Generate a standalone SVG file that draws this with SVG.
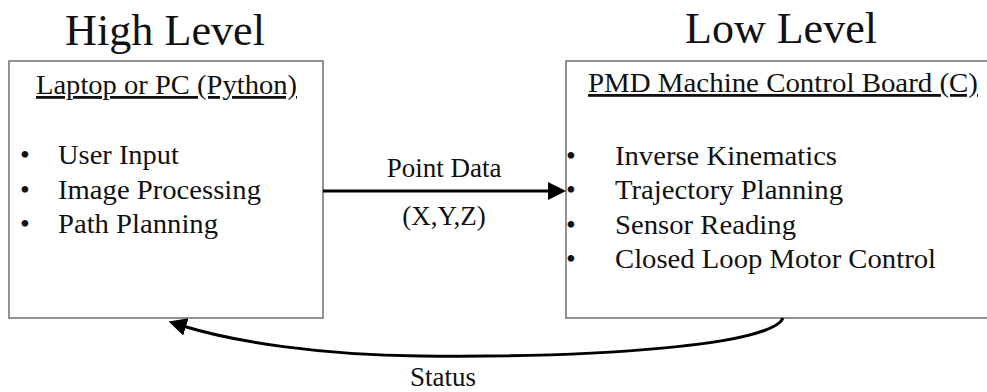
<svg xmlns="http://www.w3.org/2000/svg" width="987" height="392" viewBox="0 0 987 392">
<style>
text{font-family:"Liberation Serif","Times New Roman",serif;fill:#111}
.h{font-size:44px;text-anchor:middle}
.t{font-size:28px}
.u{text-decoration:underline}
.b{text-anchor:middle}
.box{fill:#fff;stroke:#777;stroke-width:1.6}
.c{fill:none;stroke:#000;stroke-width:3}
.l{font-size:27px;text-anchor:middle}
</style>
<defs>
<marker id="ah" markerUnits="userSpaceOnUse" markerWidth="20" markerHeight="20" refX="3" refY="9" orient="auto">
<path d="M0,0 L18,9 L0,18 z" fill="#000"/>
</marker>
</defs>
<rect width="987" height="392" fill="#fff"/>
<text class="h" x="165" y="45" textLength="200" lengthAdjust="spacingAndGlyphs">High Level</text>
<text class="h" x="781" y="43">Low Level</text>
<g id="pc">
<rect class="box" x="9" y="61" width="314" height="257"/>
<text class="t u" x="36" y="94" textLength="261" lengthAdjust="spacingAndGlyphs">Laptop or PC (Python)</text>
<text class="t b" x="25" y="164">•</text>
<text class="t b" x="25" y="199">•</text>
<text class="t b" x="25" y="233">•</text>
<text class="t" x="58" y="164" textLength="121" lengthAdjust="spacingAndGlyphs">User Input</text>
<text class="t" x="58" y="199" textLength="203" lengthAdjust="spacingAndGlyphs">Image Processing</text>
<text class="t" x="58" y="233" textLength="160" lengthAdjust="spacingAndGlyphs">Path Planning</text>
</g>
<g id="pmd">
<rect class="box" x="566" y="61" width="430" height="257"/>
<text class="t u" x="588" y="92" textLength="390" lengthAdjust="spacingAndGlyphs">PMD Machine Control Board (C)</text>
<text class="t b" x="571" y="165">•</text>
<text class="t b" x="571" y="199">•</text>
<text class="t b" x="571" y="234">•</text>
<text class="t b" x="571" y="268">•</text>
<text class="t" x="615" y="165" textLength="222" lengthAdjust="spacingAndGlyphs">Inverse Kinematics</text>
<text class="t" x="615" y="199" textLength="228" lengthAdjust="spacingAndGlyphs">Trajectory Planning</text>
<text class="t" x="615" y="234" textLength="181" lengthAdjust="spacingAndGlyphs">Sensor Reading</text>
<text class="t" x="615" y="268" textLength="321" lengthAdjust="spacingAndGlyphs">Closed Loop Motor Control</text>
</g>
<g id="connectors">
<line class="c" x1="323" y1="191" x2="551" y2="191" marker-end="url(#ah)"/>
<path class="c" d="M783,318 C772,345 600,358 420,356 C320,355 235,342 183,326" marker-end="url(#ah)"/>
<text class="l" x="444" y="177">Point Data</text>
<text class="l" x="444" y="225">(X,Y,Z)</text>
<text class="l" x="443" y="386">Status</text>
</g>
</svg>
